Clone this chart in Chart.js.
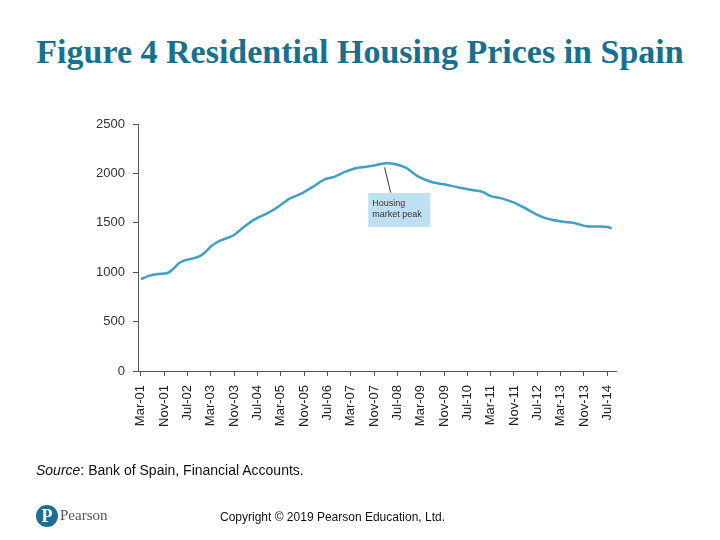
<!DOCTYPE html>
<html>
<head>
<meta charset="utf-8">
<script src="https://cdn.jsdelivr.net/npm/chart.js@4/dist/chart.umd.min.js"></script>
<style>
  html, body { margin: 0; padding: 0; background: #fff; }
  #wrap { position: relative; width: 720px; height: 540px; overflow: hidden; }
  #chart { position: absolute; left: 0; top: 0; }
  .title { position: absolute; left: 0; width: 720px; top: 33px; text-align: center;
    font-family: "Liberation Serif", serif; font-weight: bold; font-size: 34px; color: #18708f; }
  .source { position: absolute; left: 36px; top: 462px; font-family: "Liberation Sans", sans-serif; font-size: 14px; color: #111; }
  .copy { position: absolute; left: 220px; top: 510px; font-family: "Liberation Sans", sans-serif; font-size: 12px; color: #111; }
  .logo { position: absolute; left: 36px; top: 505px; width: 22px; height: 22px; border-radius: 50%; background: #1d6f94;
    color: #fff; font-family: "Liberation Serif", serif; font-weight: bold; font-size: 18px; line-height: 23px; text-align: center; }
  .brand { position: absolute; left: 60px; top: 507px; font-family: "Liberation Serif", serif; font-size: 15px; color: #555; }
</style>
</head>
<body>
<div id="wrap">
  <div class="title">Figure 4 Residential Housing Prices in Spain</div>
  <canvas id="chart" width="720" height="540"></canvas>
  <div class="source"><i>Source</i>: Bank of Spain, Financial Accounts.</div>
  <div class="logo">P</div>
  <div class="brand">Pearson</div>
  <div class="copy">Copyright © 2019 Pearson Education, Ltd.</div>
</div>
<script>
// months since Mar-01
const meses = [0,3,6,9,11,13,15,18,20,22,24,27,30,32,35,39,43,47,51,55,59,63,66,70,74,79,84,87,91,95,100,104,109,113,117,120,124,128,132,135,138,141,145,149,153,157,160,161.5];
const precos = [930,965,982,990,1030,1090,1120,1140,1160,1200,1260,1316,1350,1377,1450,1535,1590,1660,1745,1795,1865,1940,1962,2015,2055,2075,2102,2095,2055,1970,1910,1890,1858,1835,1815,1770,1745,1705,1645,1595,1555,1530,1510,1495,1465,1462,1458,1444];
const rotulos = ['Mar-01','Nov-01','Jul-02','Mar-03','Nov-03','Jul-04','Mar-05','Nov-05','Jul-06','Mar-07','Nov-07','Jul-08','Mar-09','Nov-09','Jul-10','Mar-11','Nov-11','Jul-12','Mar-13','Nov-13','Jul-14'];
const passoMeses = 8;
const yTicks = [0, 500, 1000, 1500, 2000, 2500];

const nota = { texto: ['Housing', 'market peak'], x0: 78, x1: 99.3, y0: 1802, y1: 1457, de: [83.6, 2060], ate: [85.7, 1805] };

const notaPlugin = {
  id: 'nota',
  afterDatasetsDraw(chart) {
    const { ctx, scales: { x, y } } = chart;
    ctx.save();
    ctx.strokeStyle = '#333';
    ctx.lineWidth = 1;
    ctx.beginPath();
    ctx.moveTo(x.getPixelForValue(nota.de[0]), y.getPixelForValue(nota.de[1]));
    ctx.lineTo(x.getPixelForValue(nota.ate[0]), y.getPixelForValue(nota.ate[1]));
    ctx.stroke();
    const bx = x.getPixelForValue(nota.x0), by = y.getPixelForValue(nota.y0);
    const bw = x.getPixelForValue(nota.x1) - bx, bh = y.getPixelForValue(nota.y1) - by;
    ctx.fillStyle = '#bfe0f3';
    ctx.fillRect(bx, by, bw, bh);
    ctx.fillStyle = '#333';
    ctx.font = '9px "Liberation Sans", sans-serif';
    ctx.textBaseline = 'top';
    nota.texto.forEach((t, i) => ctx.fillText(t, bx + 4, by + 6 + i * 11));
    ctx.restore();
  }
};

new Chart(document.getElementById('chart'), {
  type: 'line',
  data: {
    datasets: [{
      data: meses.map((m, i) => ({ x: m, y: precos[i] })),
      borderColor: '#3f9fc6',
      borderWidth: 2.5,
      pointRadius: 0,
      tension: 0.2,
      fill: false
    }]
  },
  options: {
    responsive: false,
    animation: false,
    layout: { padding: { top: 124, right: 104, left: 0, bottom: 0 } },
    plugins: { legend: { display: false }, tooltip: { enabled: false } },
    scales: {
      x: {
        type: 'linear',
        min: -1,
        max: 163,
        afterBuildTicks: s => { s.ticks = rotulos.map((_, i) => ({ value: i * passoMeses })); },
        afterFit: s => { s.height = 540 - 371; },
        ticks: {
          autoSkip: false, minRotation: 90, maxRotation: 90, padding: 9,
          color: '#222', font: { family: '"Liberation Sans", sans-serif', size: 13 },
          callback: v => rotulos[Math.round(v / passoMeses)]
        },
        grid: { drawOnChartArea: false, tickLength: 5, color: '#555' },
        border: { color: '#555', width: 1 }
      },
      y: {
        min: 0,
        max: 2500,
        afterBuildTicks: s => { s.ticks = yTicks.map(v => ({ value: v })); },
        afterFit: s => { s.width = 138; },
        ticks: { color: '#333', padding: 8, font: { family: '"Liberation Sans", sans-serif', size: 13 }, callback: v => String(v) },
        grid: { drawOnChartArea: false, tickLength: 5, color: '#555' },
        border: { color: '#555', width: 1 }
      }
    }
  },
  plugins: [notaPlugin]
});
</script>
</body>
</html>
